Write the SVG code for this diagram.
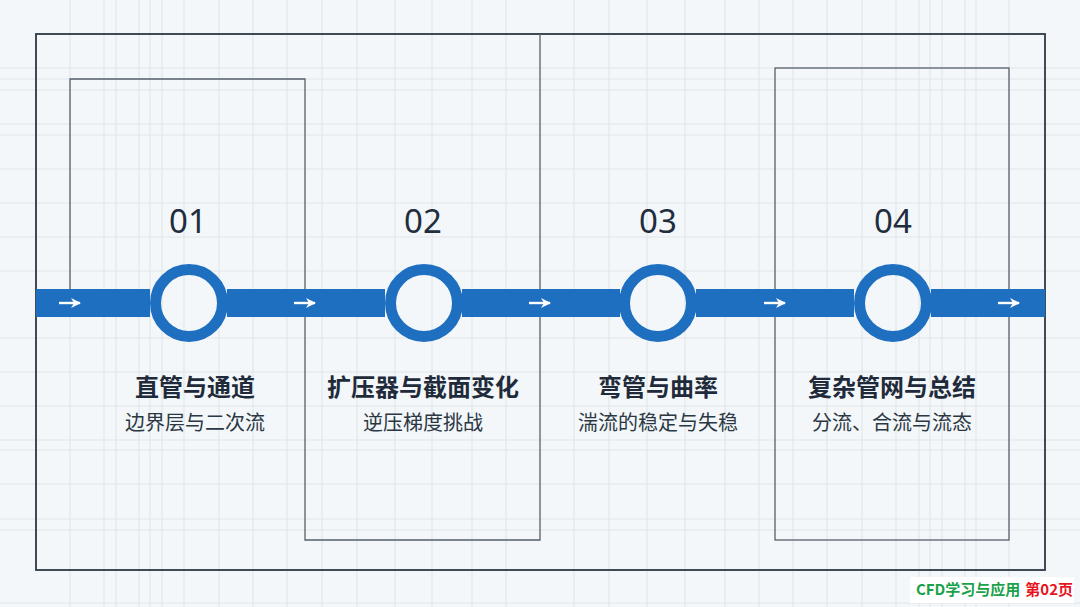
<svg xmlns="http://www.w3.org/2000/svg" width="1080" height="607" viewBox="0 0 1080 607">
<style>
.grid line{stroke:#e1e6ea;stroke-width:1.2}
.frame{fill:none;stroke:#2e3845;stroke-width:1.8}
.box{fill:none;stroke:#56606c;stroke-width:1.3}
.bar{fill:#1f6fc1}
.ring{fill:none;stroke:#1f6fc1;stroke-width:11}
.arr{stroke:#ffffff;stroke-width:2.4;fill:none}
.num{font-family:"Noto Sans","Open Sans",sans-serif;font-size:33px;fill:#1f2d3d;text-anchor:middle}
.title{font-family:"Noto Sans CJK SC",sans-serif;font-size:24px;font-weight:bold;fill:#1f2b3a;text-anchor:middle}
.sub{font-family:"Noto Sans CJK SC",sans-serif;font-size:20px;fill:#2c3744;text-anchor:middle}
.wm{font-family:"Noto Sans CJK SC",sans-serif;font-size:15px;font-weight:bold}
</style>
<defs>
<marker id="ah" markerWidth="12" markerHeight="12" refX="9" refY="5" orient="auto" markerUnits="userSpaceOnUse">
<path d="M0,0 L10,5 L0,10 L3,5 Z" fill="#ffffff"/>
</marker>
</defs>
<rect width="1080" height="607" fill="#f3f7f9"/>
<g class="grid">
<line x1="70" y1="0" x2="70" y2="607"/><line x1="104" y1="0" x2="104" y2="607"/><line x1="116" y1="0" x2="116" y2="607"/><line x1="139" y1="0" x2="139" y2="607"/><line x1="150" y1="0" x2="150" y2="607"/><line x1="162" y1="0" x2="162" y2="607"/><line x1="184" y1="0" x2="184" y2="607"/><line x1="219" y1="0" x2="219" y2="607"/><line x1="253" y1="0" x2="253" y2="607"/><line x1="287" y1="0" x2="287" y2="607"/><line x1="322" y1="0" x2="322" y2="607"/><line x1="357" y1="0" x2="357" y2="607"/><line x1="395" y1="0" x2="395" y2="607"/><line x1="432" y1="0" x2="432" y2="607"/><line x1="472" y1="0" x2="472" y2="607"/><line x1="506" y1="0" x2="506" y2="607"/><line x1="574" y1="0" x2="574" y2="607"/><line x1="609" y1="0" x2="609" y2="607"/><line x1="647" y1="0" x2="647" y2="607"/><line x1="685" y1="0" x2="685" y2="607"/><line x1="725" y1="0" x2="725" y2="607"/><line x1="759" y1="0" x2="759" y2="607"/><line x1="793" y1="0" x2="793" y2="607"/><line x1="827" y1="0" x2="827" y2="607"/><line x1="862" y1="0" x2="862" y2="607"/><line x1="896" y1="0" x2="896" y2="607"/><line x1="919" y1="0" x2="919" y2="607"/><line x1="930" y1="0" x2="930" y2="607"/><line x1="942" y1="0" x2="942" y2="607"/><line x1="965" y1="0" x2="965" y2="607"/><line x1="976" y1="0" x2="976" y2="607"/><line x1="1009" y1="0" x2="1009" y2="607"/>
<line x1="0" y1="68" x2="1080" y2="68"/><line x1="0" y1="79" x2="1080" y2="79"/><line x1="0" y1="90" x2="1080" y2="90"/><line x1="0" y1="124" x2="1080" y2="124"/><line x1="0" y1="135" x2="1080" y2="135"/><line x1="0" y1="169" x2="1080" y2="169"/><line x1="0" y1="203" x2="1080" y2="203"/><line x1="0" y1="237" x2="1080" y2="237"/><line x1="0" y1="271" x2="1080" y2="271"/><line x1="0" y1="338" x2="1080" y2="338"/><line x1="0" y1="372" x2="1080" y2="372"/><line x1="0" y1="406" x2="1080" y2="406"/><line x1="0" y1="440" x2="1080" y2="440"/><line x1="0" y1="450" x2="1080" y2="450"/><line x1="0" y1="484" x2="1080" y2="484"/><line x1="0" y1="519" x2="1080" y2="519"/><line x1="0" y1="530" x2="1080" y2="530"/><line x1="0" y1="603" x2="1080" y2="603"/>
</g>
<rect class="frame" x="36" y="34" width="1009" height="536"/>
<g id="boxes">
<path class="box" d="M70,290 V79 H305 V540 H540 V34"/>
<rect class="box" x="775" y="68" width="234" height="472"/>
</g>
<g id="connectors">
<rect class="bar" x="36" y="289" width="114" height="28"/>
<rect class="bar" x="227" y="289" width="158" height="28"/>
<rect class="bar" x="462" y="289" width="158" height="28"/>
<rect class="bar" x="696" y="289" width="158" height="28"/>
<rect class="bar" x="931" y="289" width="114" height="28"/>
<line class="arr" x1="59" y1="303" x2="80" y2="303" marker-end="url(#ah)"/>
<line class="arr" x1="294" y1="303" x2="315" y2="303" marker-end="url(#ah)"/>
<line class="arr" x1="529" y1="303" x2="550" y2="303" marker-end="url(#ah)"/>
<line class="arr" x1="764" y1="303" x2="785" y2="303" marker-end="url(#ah)"/>
<line class="arr" x1="998" y1="303" x2="1019" y2="303" marker-end="url(#ah)"/>
</g>
<g id="node1">
<circle class="ring" cx="189" cy="303" r="33.5"/>
<text class="num" x="188" y="233">01</text>
<text class="title" x="195" y="396">直管与通道</text>
<text class="sub" x="195" y="430">边界层与二次流</text>
</g>
<g id="node2">
<circle class="ring" cx="424" cy="303" r="33.5"/>
<text class="num" x="423" y="233">02</text>
<text class="title" x="423" y="396">扩压器与截面变化</text>
<text class="sub" x="423" y="430">逆压梯度挑战</text>
</g>
<g id="node3">
<circle class="ring" cx="658" cy="303" r="33.5"/>
<text class="num" x="658" y="233">03</text>
<text class="title" x="658" y="396">弯管与曲率</text>
<text class="sub" x="658" y="430">湍流的稳定与失稳</text>
</g>
<g id="node4">
<circle class="ring" cx="893" cy="303" r="33.5"/>
<text class="num" x="893" y="233">04</text>
<text class="title" x="892" y="396">复杂管网与总结</text>
<text class="sub" x="892" y="430">分流、合流与流态</text>
</g>
<g id="watermark">
<rect x="910" y="577" width="164" height="26" fill="#ffffff"/>
<text class="wm" x="916" y="595"><tspan fill="#1aa24a">CFD学习与应用</tspan><tspan fill="#e8121c" dx="5">第02页</tspan></text>
</g>
</svg>
